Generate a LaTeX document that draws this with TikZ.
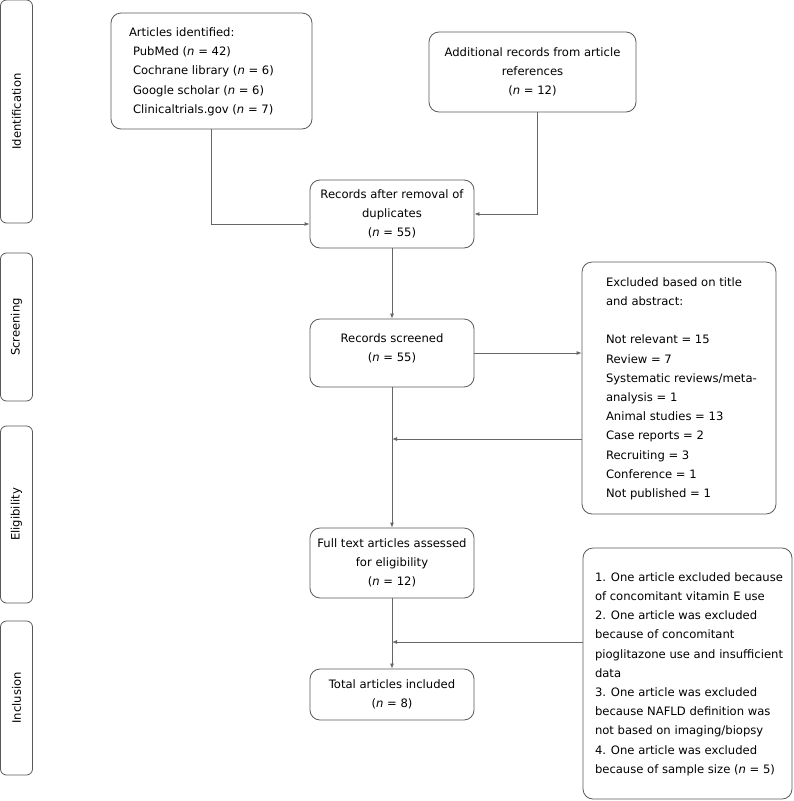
\documentclass[tikz,border=0pt]{standalone}
\usepackage{fontspec}
\setmainfont{DejaVu Sans}
\usepackage{xcolor}
\usepackage{tikz}
\usetikzlibrary{calc}
\usetikzlibrary{arrows.meta,positioning}

\begin{document}
\begin{tikzpicture}[x=1pt,y=-1pt,
	txt/.style={font=\fontsize{11.6pt}{19.2pt}\selectfont},
	blk/.style={txt,draw=black!65,line width=0.8pt,rounded corners=10pt,align=center,minimum width=164pt,inner sep=2pt},
	lbox/.style={txt,draw=black!65,line width=0.8pt,rounded corners=10pt,inner ysep=2pt},
	side/.style={txt,draw=black!65,line width=0.8pt,rounded corners=6pt,rotate=90,minimum height=32pt,inner sep=0pt},
	arr/.style={draw=black!60,line width=0.8pt,-{Latex[length=5pt,width=4pt]}}]
	\useasboundingbox (0,0) rectangle (794,801);
		% phases
		\node[side,minimum width=223pt] (ident) at (16.5,111.5) {Identification};
		\node[side,minimum width=148pt] (screen) at (16.5,327) {Screening};
		\node[side,minimum width=177pt] (elig) at (16.5,514.5) {Eligibility};
		\node[side,minimum width=154pt] (incl) at (16.5,698) {Inclusion};
		% top boxes
		\node[lbox,inner xsep=18pt,minimum height=116pt] (art) at (211.5,71) {\makebox[165pt][l]{\begin{tabular}{@{}l@{}}
			Articles identified:\\
			\hspace{4pt}PubMed (\textit{n} = 42)\\
			\hspace{4pt}Cochrane library (\textit{n} = 6)\\
			\hspace{4pt}Google scholar (\textit{n} = 6)\\
			\hspace{4pt}Clinicaltrials.gov (\textit{n} = 7)
			\end{tabular}}};
		\node[blk,minimum width=207pt,minimum height=80pt] (add) at (532.5,72) {Additional records from article\\references\\(\textit{n} = 12)};
		% main column
		\node[blk,minimum height=68pt] (rem) at (392,214) {Records after removal of\\duplicates\\(\textit{n} = 55)};
		\node[blk,minimum height=68pt] (scr) at (392,353) {Records screened\\(\textit{n} = 55)\\[-9pt]\mbox{}};
		\node[blk,minimum height=70pt] (full) at (392,563) {Full text articles assessed\\for eligibility\\(\textit{n} = 12)};
		\node[blk,minimum height=51pt] (tot) at (392,694.5) {Total articles included\\(\textit{n} = 8)};
		% exclusions
		\node[lbox,inner xsep=24pt,minimum height=252pt] (exc) at (679,388) {\makebox[146pt][l]{\begin{tabular}{@{}l@{}}
			Excluded based on title\\and abstract:\\ \\
			Not relevant = 15\\Review = 7\\Systematic reviews/meta-\\analysis = 1\\Animal studies = 13\\
			Case reports = 2\\Recruiting = 3\\Conference = 1\\Not published = 1
			\end{tabular}}};
		\node[lbox,inner xsep=12pt,minimum height=251pt] (why) at (687.5,673.5) {\makebox[185pt][l]{\begin{tabular}{@{}l@{}}
			1. One article excluded because\\of concomitant vitamin E use\\
			2. One article was excluded\\because of concomitant\\pioglitazone use and insufficient\\data\\
			3. One article was excluded\\because NAFLD definition was\\not based on imaging/biopsy\\
			4. One article was excluded\\because of sample size (\textit{n} = 5)
			\end{tabular}}};
		% connectors
		\coordinate (m1) at (392,439);
		\coordinate (m2) at (392,642);
		\draw[arr] (art.south) |- ([yshift=-10pt]rem.west);
		\draw[arr] ([xshift=4.5pt]add.south) |- (rem.east);
		\draw[arr] (rem) -- (scr);
		\draw[arr] (scr.east) -- (scr.east -| exc.west);
		\draw[arr] (scr) -- (full);
		\draw[arr] (m1 -| exc.west) -- (m1);
		\draw[arr] (full) -- (tot);
		\draw[arr] (m2 -| why.west) -- (m2);
\end{tikzpicture}
\end{document}
